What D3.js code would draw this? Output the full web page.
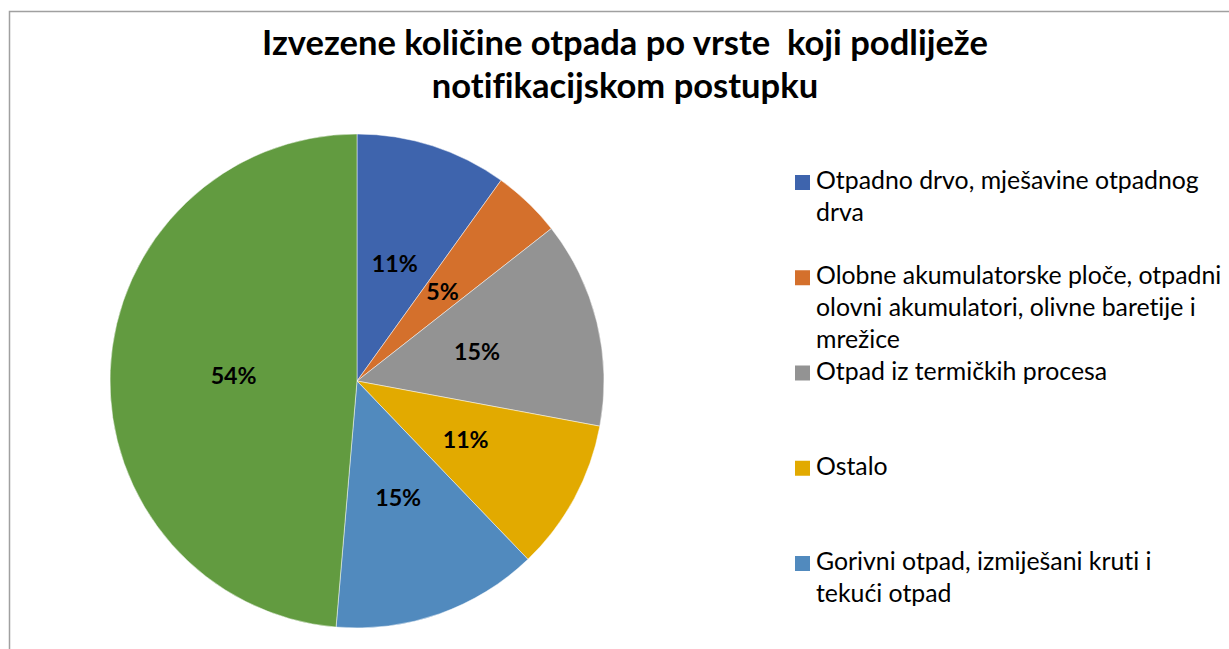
<!DOCTYPE html>
<html><head><meta charset="utf-8">
<script src="https://cdn.jsdelivr.net/npm/d3@7"></script>
<style>
html,body{margin:0;padding:0;background:#fff;}
svg{display:block;}
text{font-family:Lato,"Noto Sans",sans-serif;font-variant-ligatures:none;font-feature-settings:"liga" 0,"clig" 0;}
</style></head>
<body>
<script>
const titleLines = ["Izvezene količine otpada po vrste  koji podliježe", "notifikacijskom postupku"];
const categories = [
  "Otpadno drvo, mješavine otpadnog\ndrva",
  "Olobne akumulatorske ploče, otpadni\nolovni akumulatori, olivne baretije i\nmrežice",
  "Otpad iz termičkih procesa",
  "Ostalo",
  "Gorivni otpad, izmiješani kruti i\ntekući otpad"
];
const values = [11, 5, 15, 11, 15, 54];
const colors = ["#3E64AD", "#D4702C", "#939393", "#E2AA00", "#518ABE", "#629B40"];

const W = 1229, H = 649;
const svg = d3.select("body").append("svg").attr("width", W).attr("height", H);

// frame
svg.append("rect").attr("x", 9.5).attr("y", 11.5).attr("width", W + 20).attr("height", H + 20)
  .attr("fill", "#fff").attr("stroke", "#a0a0a0").attr("stroke-width", 1.5);

function fitSize(str, weight, target) {
  const t = svg.append("text").attr("font-size", 100).attr("font-weight", weight).style("white-space", "pre").text(str);
  const w = t.node().getComputedTextLength();
  t.remove();
  return 100 * target / w;
}

// title
const titleSize = fitSize(titleLines[0], "bold", 726);
const title = svg.append("text").attr("text-anchor", "middle").attr("font-weight", "bold")
  .attr("font-size", titleSize).attr("fill", "#000").style("white-space", "pre");
title.selectAll("tspan").data(titleLines).join("tspan")
  .attr("x", 625).attr("y", (d, i) => 55 + i * 43).text(d => d);

// pie
const cx = 357, cy = 381, R = 247;
const pie = d3.pie().sort(null).value(d => d)(values);
const arc = d3.arc().innerRadius(0).outerRadius(R);
const labelArc = d3.arc().innerRadius(R / 2).outerRadius(R / 2);
const g = svg.append("g").attr("transform", `translate(${cx},${cy})`);
g.selectAll("path").data(pie).join("path")
  .attr("d", arc).attr("fill", (d, i) => colors[i])
  .attr("stroke", "#ffffff").attr("stroke-width", 0.6).attr("stroke-opacity", 0.8);

const labSize = fitSize("54%", "bold", 46);
g.selectAll("text.lab").data(pie).join("text").attr("class", "lab")
  .attr("transform", d => { const c = labelArc.centroid(d); return `translate(${c[0]},${c[1]})`; })
  .attr("text-anchor", "middle").attr("dy", "0.35em")
  .attr("font-weight", "bold").attr("font-size", labSize).attr("fill", "#000")
  .text(d => d.data + "%");

// legend
const legSize = fitSize("Otpadno drvo, mješavine otpadnog", "normal", 383);
const leg = svg.append("g");
const items = leg.selectAll("g").data(categories).join("g")
  .attr("transform", (d, i) => `translate(795,${189 + i * 95.25})`);
items.append("rect").attr("x", 0).attr("y", -14).attr("width", 15).attr("height", 15)
  .attr("fill", (d, i) => colors[i]);
items.append("text").attr("font-size", legSize).attr("fill", "#000")
  .selectAll("tspan").data(d => d.split("\n")).join("tspan")
  .attr("x", 21).attr("y", (d, i) => i * 31.8).text(d => d);
</script>
</body></html>
